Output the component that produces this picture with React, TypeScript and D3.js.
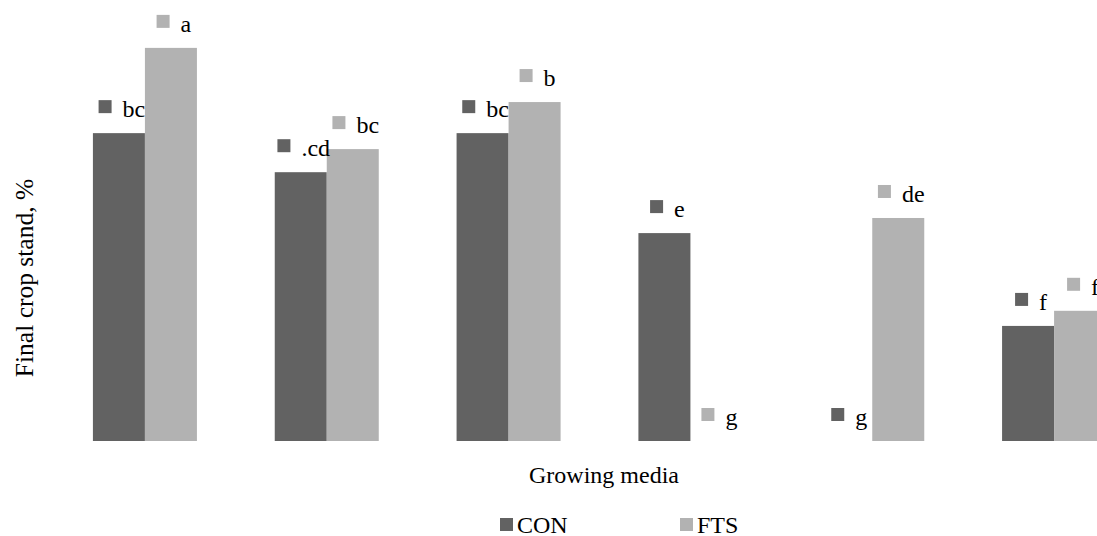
import React, { useEffect, useRef } from "react";
import * as d3 from "d3";

const categories = ["M1", "M2", "M3", "M4", "M5", "M6"];
const seriesNames = ["CON", "FTS"];
const conValues = [73.3, 64.0, 73.3, 49.5, 0, 27.4];
const ftsValues = [93.6, 69.5, 80.7, 0, 53.1, 31.0];
const conLetters = ["bc", ".cd", "bc", "e", "g", "f"];
const ftsLetters = ["a", "bc", "b", "g", "de", "f"];
const colors = ["#626262", "#b2b2b2"];

const W = 1097;
const H = 536;
const FONT = "Liberation Serif, Times New Roman, serif";

export default function App() {
  const ref = useRef<SVGSVGElement | null>(null);

  useEffect(() => {
    const svg = d3.select(ref.current);
    svg.selectAll("*").remove();

    const x = d3
      .scaleBand<string>()
      .domain(categories)
      .range([54, 1145])
      .paddingInner(0.428)
      .paddingOuter(0.214);
    const xi = d3
      .scaleBand<string>()
      .domain(seriesNames)
      .range([0, x.bandwidth()])
      .padding(0);
    const y = d3.scaleLinear().domain([0, 100]).range([441, 21]);

    const rows = categories.flatMap((c, i) => [
      { cat: c, s: "CON", v: conValues[i], lab: conLetters[i], col: colors[0] },
      { cat: c, s: "FTS", v: ftsValues[i], lab: ftsLetters[i], col: colors[1] },
    ]);

    svg
      .append("g")
      .selectAll("rect")
      .data(rows)
      .join("rect")
      .attr("x", (d) => (x(d.cat) as number) + (xi(d.s) as number))
      .attr("y", (d) => y(d.v))
      .attr("width", xi.bandwidth())
      .attr("height", (d) => y(0) - y(d.v))
      .attr("fill", (d) => d.col);

    const labels = svg
      .append("g")
      .selectAll("g")
      .data(rows)
      .join("g");

    labels.each(function (d) {
      const g = d3.select(this);
      const cx = (x(d.cat) as number) + (xi(d.s) as number) + xi.bandwidth() / 2;
      const base = y(d.v) - 16;
      const t = g
        .append("text")
        .attr("y", base)
        .attr("font-family", FONT)
        .attr("font-size", 24)
        .attr("fill", "#000")
        .text(d.lab);
      const tw = (t.node() as SVGTextElement).getComputedTextLength();
      const sq = 13;
      const gap = 11;
      const total = sq + gap + tw;
      const start = cx - total / 2 + 3;
      g.append("rect")
        .attr("x", start)
        .attr("y", base - 17)
        .attr("width", sq)
        .attr("height", sq)
        .attr("fill", d.col);
      t.attr("x", start + sq + gap);
    });

    svg
      .append("text")
      .attr("transform", "translate(33,278) rotate(-90)")
      .attr("text-anchor", "middle")
      .attr("font-family", FONT)
      .attr("font-size", 25.5)
      .text("Final crop stand, %");

    svg
      .append("text")
      .attr("x", 604)
      .attr("y", 483)
      .attr("text-anchor", "middle")
      .attr("font-family", FONT)
      .attr("font-size", 24)
      .text("Growing media");

    const legendX = [500, 680];
    seriesNames.forEach((s, i) => {
      svg
        .append("rect")
        .attr("x", legendX[i])
        .attr("y", 518)
        .attr("width", 13)
        .attr("height", 13)
        .attr("fill", colors[i]);
      svg
        .append("text")
        .attr("x", legendX[i] + 17)
        .attr("y", 533)
        .attr("font-family", FONT)
        .attr("font-size", 24)
        .text(s);
    });
  }, []);

  return (
    <svg
      ref={ref}
      width={W}
      height={H}
      style={{ position: "absolute", left: 0, top: 0, background: "#fff", overflow: "hidden" }}
    />
  );
}
